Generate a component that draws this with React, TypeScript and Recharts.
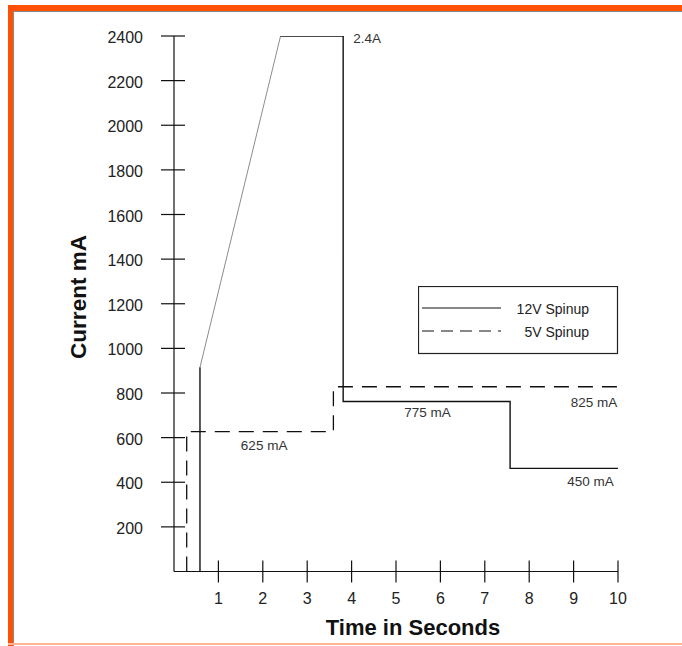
import React from 'react';
import { LineChart, Line, XAxis, YAxis, Legend, ReferenceDot } from 'recharts';

const FONT = '"Liberation Sans", Arial, sans-serif';

const timeTicks = [1, 2, 3, 4, 5, 6, 7, 8, 9, 10];
const currentTicks = [200, 400, 600, 800, 1000, 1200, 1400, 1600, 1800, 2000, 2200, 2400];

const spinup12V = [
  { t: 0.585, mA: 0 },
  { t: 0.585, mA: 915 },
  { t: 2.4, mA: 2400 },
  { t: 3.81, mA: 2400 },
  { t: 3.81, mA: 762 },
  { t: 7.57, mA: 762 },
  { t: 7.57, mA: 462 },
  { t: 10, mA: 462 },
];
// the rising ramp (index 1 -> 2) is drawn thinner and grey
const rampFrom = 1;
const rampTo = 2;

const spinup5V = [
  { t: 0.286, mA: 0 },
  { t: 0.286, mA: 627 },
  { t: 3.59, mA: 627 },
  { t: 3.59, mA: 828 },
  { t: 10, mA: 828 },
];

const seriesNames = ['12V Spinup', '5V Spinup'];

const annotations = [
  { t: 4.35, mA: 2391, text: '2.4A' },
  { t: 2.03, mA: 567, text: '625 mA' },
  { t: 5.71, mA: 715, text: '775 mA' },
  { t: 9.46, mA: 760, text: '825 mA' },
  { t: 9.38, mA: 406, text: '450 mA' },
];

const YTick = (props: any) => {
  const { x, y, payload } = props;
  return (
    <g>
      <line x1={x - 13} x2={x + 11} y1={y} y2={y} stroke="#111" strokeWidth={1.2} />
      <text x={x - 31} y={y + 7} textAnchor="end" fontSize={16} fill="#222" fontFamily={FONT}>
        {payload.value}
      </text>
    </g>
  );
};

const XTick = (props: any) => {
  const { x, y, payload } = props;
  return (
    <g>
      <line x1={x} x2={x} y1={y - 11} y2={y + 11} stroke="#111" strokeWidth={1.2} />
      <text x={x} y={y + 32} textAnchor="middle" fontSize={16} fill="#222" fontFamily={FONT}>
        {payload.value}
      </text>
    </g>
  );
};

const LegendBox = () => (
  <svg width={201} height={69} style={{ display: 'block' }}>
    <rect x={0.5} y={0.5} width={199} height={67} fill="none" stroke="#222" strokeWidth={1.2} />
    <line x1={4} x2={83} y1={22} y2={22} stroke="#111" strokeWidth={1.2} />
    <text x={171} y={28} textAnchor="end" fontSize={14} fill="#222" fontFamily={FONT}>
      {seriesNames[0]}
    </text>
    <line x1={4} x2={83} y1={45} y2={45} stroke="#111" strokeWidth={1.2} strokeDasharray="12 7" />
    <text x={171} y={51} textAnchor="end" fontSize={14} fill="#222" fontFamily={FONT}>
      {seriesNames[1]}
    </text>
  </svg>
);

export default function App() {
  const partA = spinup12V.slice(0, rampFrom + 1);
  const ramp = spinup12V.slice(rampFrom, rampTo + 1);
  const partB = spinup12V.slice(rampTo);
  return (
    <div style={{ position: 'absolute', left: 0, top: 0, width: 682, height: 646, background: '#fff', overflow: 'hidden' }}>
      <div style={{ position: 'absolute', left: 8, top: 5, width: 680, height: 645, borderLeft: '5px solid #FF5005', borderTop: '6px solid #FF5005' }} />
      <div style={{ position: 'absolute', left: 13, top: 11, width: 680, height: 640, borderLeft: '1px solid #8a8a8a', borderTop: '1px solid #8a8a8a' }} />
      <div style={{ position: 'absolute', left: 8, top: 643, width: 680, height: 2, background: '#FFB592' }} />
      <div style={{ position: 'absolute', left: 0, top: 0 }}>
        <LineChart width={682} height={646} margin={{ top: 36, right: 64, bottom: 44.5, left: 114 }}>
          <XAxis
            type="number"
            dataKey="t"
            domain={[0, 10]}
            ticks={timeTicks}
            allowDataOverflow
            height={30}
            tickSize={0}
            tickMargin={0}
            tickLine={false}
            axisLine={{ stroke: '#111', strokeWidth: 1.2 }}
            tick={<XTick />}
            interval={0}
            label={() => (
              <text x={413} y={635} textAnchor="middle" fontSize={22} fontWeight="bold" fill="#111" fontFamily={FONT}>
                Time in Seconds
              </text>
            )}
          />
          <YAxis
            type="number"
            dataKey="mA"
            domain={[0, 2400]}
            ticks={currentTicks}
            allowDataOverflow
            width={60}
            tickSize={0}
            tickMargin={0}
            tickLine={false}
            axisLine={{ stroke: '#111', strokeWidth: 1.2 }}
            tick={<YTick />}
            interval={0}
            label={() => (
              <text
                x={0}
                y={0}
                transform="translate(86,297) rotate(-90)"
                textAnchor="middle"
                fontSize={22.5}
                fontWeight="bold"
                fill="#111"
                fontFamily={FONT}
              >
                Current mA
              </text>
            )}
          />
          <Legend
            layout="horizontal"
            verticalAlign="middle"
            align="center"
            content={() => <LegendBox />}
            wrapperStyle={{ position: 'absolute', left: 418, top: 286, width: 201, height: 69, margin: 0 }}
          />
          <Line data={spinup5V} dataKey="mA" name={seriesNames[1]} type="linear" stroke="#111" strokeWidth={1.3} strokeDasharray="15 9" dot={false} activeDot={false} isAnimationActive={false} legendType="none" />
          <Line data={partA} dataKey="mA" name={seriesNames[0]} type="linear" stroke="#111" strokeWidth={1.4} dot={false} activeDot={false} isAnimationActive={false} />
          <Line data={ramp} dataKey="mA" name={seriesNames[0] + ' ramp'} type="linear" stroke="#8c8c8c" strokeWidth={1} dot={false} activeDot={false} isAnimationActive={false} legendType="none" />
          <Line data={partB} dataKey="mA" name={seriesNames[0] + ' b'} type="linear" stroke="#111" strokeWidth={1.4} dot={false} activeDot={false} isAnimationActive={false} legendType="none" />
          {annotations.map((a) => (
            <ReferenceDot
              key={a.text}
              x={a.t}
              y={a.mA}
              r={0}
              fill="none"
              stroke="none"
              label={{ value: a.text, position: 'center', fontSize: 13.5, fill: '#333', fontFamily: FONT }}
            />
          ))}
        </LineChart>
      </div>
    </div>
  );
}
